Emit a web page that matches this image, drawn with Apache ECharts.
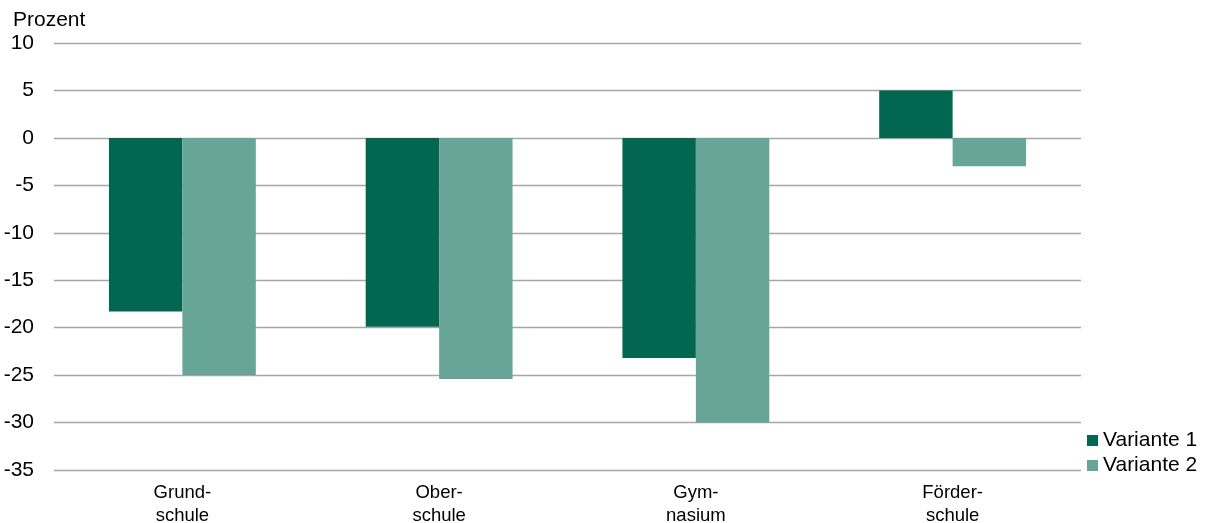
<!DOCTYPE html>
<html><head><meta charset="utf-8">
<script src="https://cdn.jsdelivr.net/npm/echarts@6/dist/echarts.min.js"></script>
<style>html,body{margin:0;padding:0;background:#fff}#c{width:1206px;height:523px}</style>
</head><body><div id="c"></div>
<script>
var categories = ['Grund-\nschule', 'Ober-\nschule', 'Gym-\nnasium', 'Förder-\nschule'];
var variante1 = [-18.3, -19.9, -23.2, 5.0];
var variante2 = [-25.0, -25.4, -30.0, -3.0];
var seriesNames = ['Variante 1', 'Variante 2'];
var yMin = -35, yMax = 10, yStep = 5;

var FONT = 'Liberation Sans, Arial, sans-serif';
var chart = echarts.init(document.getElementById('c'), null, {renderer: 'canvas'});
chart.setOption({
  animation: false,
  textStyle: {fontFamily: FONT},
  grid: {left: 54, right: 125, top: 43, bottom: 53, containLabel: false, outerBoundsMode: 'none'},
  title: {text: 'Prozent', left: 8, top: 5, textStyle: {fontFamily: FONT, fontSize: 21, fontWeight: 'normal', color: '#000'}},
  legend: {
    orient: 'vertical', left: 1082, top: 424,
    itemWidth: 11, itemHeight: 11, itemGap: 2,
    icon: 'rect',
    textStyle: {fontFamily: FONT, fontSize: 21, color: '#000', lineHeight: 23, padding: [0, 0, 0, 0]},
    data: seriesNames
  },
  xAxis: {
    type: 'category', data: categories,
    axisLine: {show: false}, axisTick: {show: false},
    axisLabel: {fontFamily: FONT, fontSize: 18.5, color: '#000', lineHeight: 23, margin: 11}
  },
  yAxis: {
    type: 'value', min: yMin, max: yMax, interval: yStep,
    axisLine: {show: false}, axisTick: {show: false},
    axisLabel: {fontFamily: FONT, fontSize: 21, color: '#000', margin: 20},
    splitLine: {lineStyle: {color: '#a6a6a6', width: 1.3}}
  },
  series: [
    {name: seriesNames[0], type: 'bar', data: variante1, barWidth: '28.6%', barGap: '0%', itemStyle: {color: '#036650'}},
    {name: seriesNames[1], type: 'bar', data: variante2, barWidth: '28.6%', barGap: '0%', itemStyle: {color: '#66a598'}}
  ]
});
</script></body></html>
